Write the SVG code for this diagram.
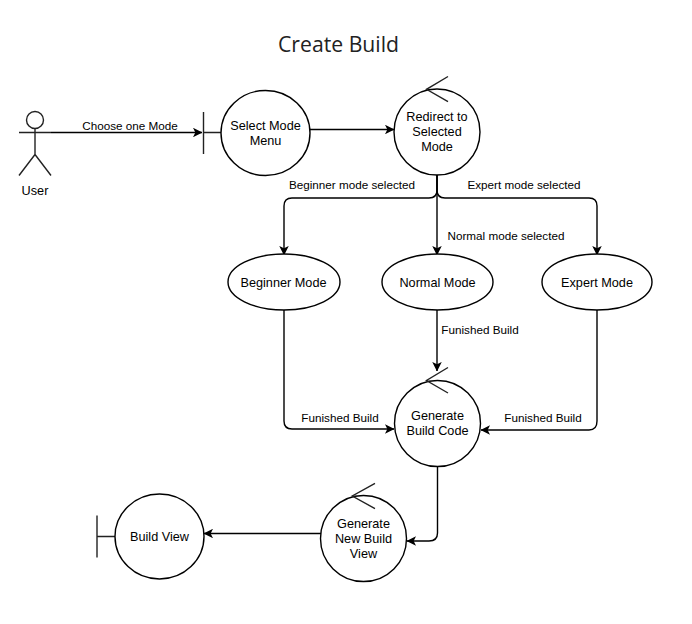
<svg xmlns="http://www.w3.org/2000/svg" width="692" height="624" viewBox="0 0 692 624">
<style>
text{font-family:"Liberation Sans",Arial,sans-serif;font-size:12.700px;fill:#000;text-anchor:middle}
.l{font-size:11.700px}
.t{font-family:"Open Sans","Liberation Sans",sans-serif;font-size:21.200px;fill:#222}
.n{fill:#fff;stroke:#000;stroke-width:1.400}
.s{fill:none;stroke:#222;stroke-width:1.400}
.c{fill:none;stroke:#000;stroke-width:1.400}
</style>
<defs>
<marker id="a" viewBox="0 0 10 10" refX="9.500" refY="5" markerWidth="9.500" markerHeight="9.500" markerUnits="userSpaceOnUse" orient="auto"><path d="M0 0L10 5L0 10L2.500 5Z" fill="#000"/></marker>
</defs>
<rect width="692" height="624" fill="#fff"/>
<text class="t" x="338.500" y="52">Create Build</text>
<g id="connectors">
<path class="c" d="M51 132.500H202" marker-end="url(#a)"/>
<path class="c" d="M310 129.500H394" marker-end="url(#a)"/>
<path class="c" d="M437 175V190Q437 198 429 198H292Q284 198 284 206V255" marker-end="url(#a)"/>
<path class="c" d="M437 175V255" marker-end="url(#a)"/>
<path class="c" d="M437 175V190Q437 198 445 198H589Q597 198 597 206V255" marker-end="url(#a)"/>
<path class="c" d="M284 310V421Q284 429 292 429H394" marker-end="url(#a)"/>
<path class="c" d="M437 310V371" marker-end="url(#a)"/>
<path class="c" d="M597 310V421Q597 430 589 430H481" marker-end="url(#a)"/>
<path class="c" d="M437.500 467V533Q437.500 541 429 541H407" marker-end="url(#a)"/>
<path class="c" d="M321 533.500H204" marker-end="url(#a)"/>
</g>
<g id="labels">
<text class="l" x="130" y="130">Choose one Mode</text>
<text class="l" x="352" y="189">Beginner mode selected</text>
<text class="l" x="524" y="189">Expert mode selected</text>
<text class="l" x="506" y="240">Normal mode selected</text>
<text class="l" x="480" y="334">Funished Build</text>
<text class="l" x="340" y="422">Funished Build</text>
<text class="l" x="543" y="422">Funished Build</text>
</g>
<g id="user">
<circle class="s" cx="35" cy="120" r="8.500"/>
<path class="s" d="M35 128.500V154.500M19 132.500H51M19 175.500L35 154.500L51 175.500"/>
<text x="35" y="195">User</text>
</g>
<g id="select-mode-menu">
<path class="s" d="M203.500 112V154M203.500 132.500H221"/>
<ellipse class="n" cx="265.500" cy="133" rx="44.500" ry="42.500"/>
<text x="265.500" y="130">Select Mode</text>
<text x="265.500" y="145">Menu</text>
</g>
<g id="redirect">
<circle class="n" cx="437" cy="132" r="43"/>
<path class="s" d="M448 76.500L426.500 89.300L448 101.700"/>
<text x="437" y="121">Redirect to</text>
<text x="437" y="136">Selected</text>
<text x="437" y="151">Mode</text>
</g>
<g id="beginner-mode">
<ellipse class="n" cx="284" cy="282" rx="56" ry="28"/>
<text x="283.500" y="287">Beginner Mode</text>
</g>
<g id="normal-mode">
<ellipse class="n" cx="437.500" cy="282" rx="55.500" ry="28"/>
<text x="437.500" y="287">Normal Mode</text>
</g>
<g id="expert-mode">
<ellipse class="n" cx="597" cy="282" rx="55" ry="28"/>
<text x="597" y="287">Expert Mode</text>
</g>
<g id="generate-build-code">
<circle class="n" cx="437.500" cy="423.500" r="43"/>
<path class="s" d="M448 367.500L426.500 380.500L448 393"/>
<text x="437.500" y="420">Generate</text>
<text x="437.500" y="435">Build Code</text>
</g>
<g id="generate-new-build-view">
<circle class="n" cx="363.500" cy="538.500" r="43"/>
<path class="s" d="M375 483.300L352.300 496L375 508.700"/>
<text x="363.500" y="528">Generate</text>
<text x="363.500" y="543">New Build</text>
<text x="363.500" y="558">View</text>
</g>
<g id="build-view">
<path class="s" d="M97 515.500V557.500M97 536.500H115"/>
<ellipse class="n" cx="159.500" cy="536.500" rx="44.500" ry="42.500"/>
<text x="159.500" y="541">Build View</text>
</g>
</svg>
